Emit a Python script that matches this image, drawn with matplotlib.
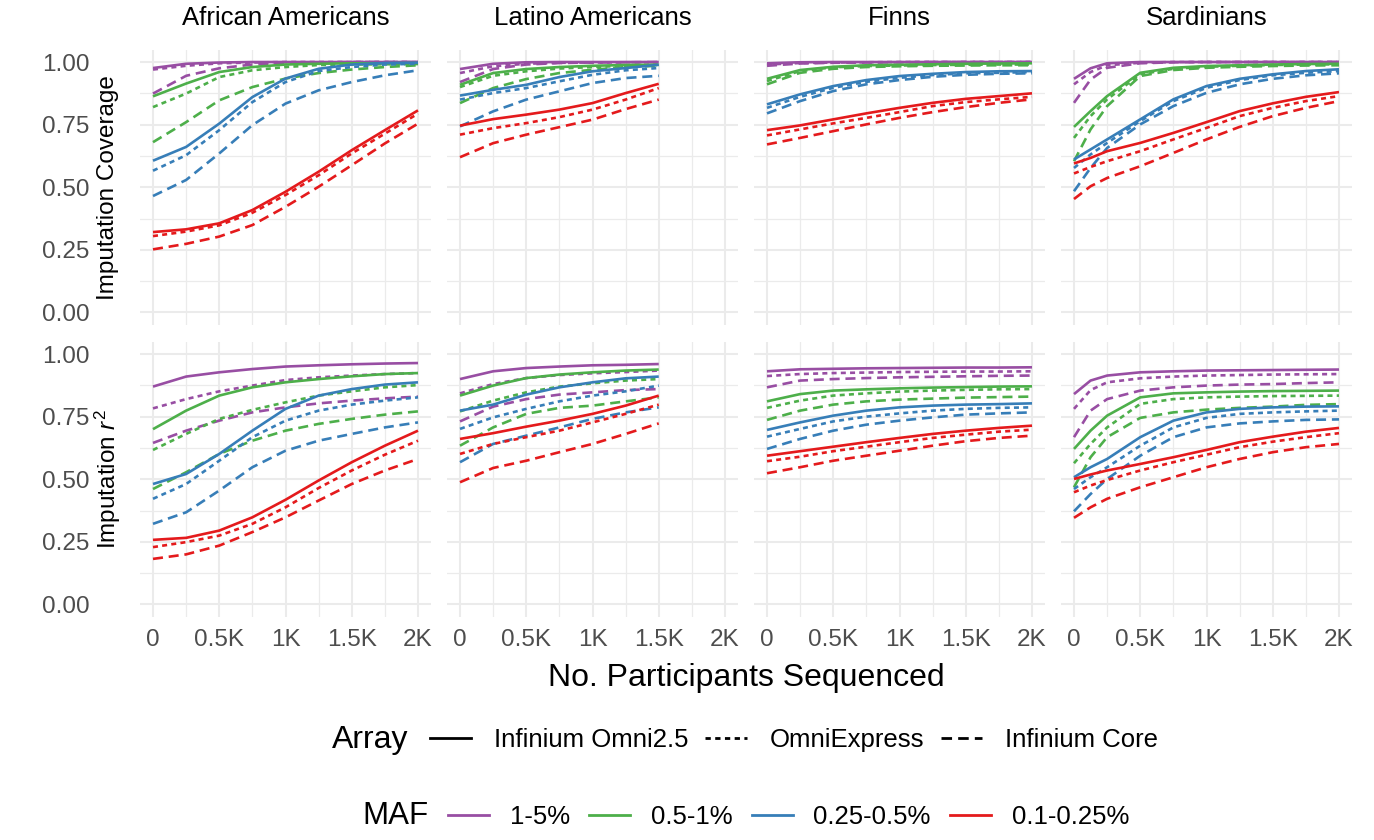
import matplotlib
matplotlib.use("Agg")
import matplotlib.pyplot as plt
from matplotlib.lines import Line2D

plt.rcParams['font.family'] = ['Liberation Sans', 'DejaVu Sans']
plt.rcParams['mathtext.fontset'] = 'custom'
plt.rcParams['mathtext.rm'] = 'Liberation Sans'
plt.rcParams['mathtext.it'] = 'Liberation Sans:italic'

# --- data ---
populations = ["African Americans", "Latino Americans", "Finns", "Sardinians"]
maf_labels = ["1-5%", "0.5-1%", "0.25-0.5%", "0.1-0.25%"]
array_labels = ["Infinium Omni2.5", "OmniExpress", "Infinium Core"]
xtick_vals = [0, 500, 1000, 1500, 2000]
xtick_labels = ["0", "0.5K", "1K", "1.5K", "2K"]
ytick_vals = [0.0, 0.25, 0.5, 0.75, 1.0]
ytick_labels = ["0.00", "0.25", "0.50", "0.75", "1.00"]

x_step = [0, 250, 500, 750, 1000, 1250, 1500, 1750, 2000]
x_lat = [0, 250, 500, 750, 1000, 1250, 1500]
x_sard = [0, 125, 250, 500, 750, 1000, 1250, 1500, 1750, 2000]

# rows: MAF 1-5% (Omni2.5, OmniExpress, Core), 0.5-1% (...), 0.25-0.5% (...), 0.1-0.25% (...)
aa_cov = [
    [0.976, 0.993, 0.998, 1.0, 1.0, 1.0, 1.0, 1.0, 1.0],
    [0.970, 0.985, 0.995, 0.998, 1.0, 1.0, 1.0, 1.0, 1.0],
    [0.874, 0.945, 0.975, 0.990, 0.996, 0.998, 1.0, 1.0, 1.0],
    [0.863, 0.914, 0.960, 0.980, 0.990, 0.993, 0.995, 0.995, 0.996],
    [0.820, 0.874, 0.940, 0.967, 0.980, 0.988, 0.990, 0.991, 0.992],
    [0.680, 0.760, 0.847, 0.900, 0.934, 0.956, 0.970, 0.980, 0.987],
    [0.606, 0.661, 0.754, 0.860, 0.934, 0.973, 0.990, 0.996, 0.997],
    [0.566, 0.628, 0.728, 0.840, 0.920, 0.964, 0.980, 0.990, 0.993],
    [0.465, 0.529, 0.635, 0.748, 0.834, 0.887, 0.920, 0.947, 0.967],
    [0.321, 0.332, 0.356, 0.409, 0.482, 0.562, 0.648, 0.728, 0.807],
    [0.305, 0.323, 0.348, 0.398, 0.469, 0.548, 0.635, 0.714, 0.794],
    [0.252, 0.274, 0.303, 0.349, 0.422, 0.502, 0.588, 0.675, 0.754],
]
aa_r2 = [
    [0.870, 0.910, 0.927, 0.940, 0.950, 0.955, 0.959, 0.962, 0.964],
    [0.783, 0.820, 0.851, 0.874, 0.896, 0.907, 0.914, 0.920, 0.924],
    [0.645, 0.694, 0.734, 0.767, 0.787, 0.803, 0.814, 0.823, 0.830],
    [0.700, 0.774, 0.834, 0.867, 0.887, 0.900, 0.911, 0.920, 0.924],
    [0.617, 0.681, 0.741, 0.777, 0.807, 0.834, 0.851, 0.867, 0.876],
    [0.461, 0.528, 0.601, 0.654, 0.694, 0.721, 0.741, 0.758, 0.771],
    [0.481, 0.521, 0.601, 0.694, 0.781, 0.834, 0.860, 0.878, 0.887],
    [0.422, 0.481, 0.574, 0.668, 0.734, 0.774, 0.798, 0.814, 0.827],
    [0.322, 0.368, 0.455, 0.548, 0.614, 0.654, 0.681, 0.707, 0.727],
    [0.258, 0.266, 0.295, 0.348, 0.418, 0.495, 0.568, 0.634, 0.694],
    [0.229, 0.249, 0.275, 0.322, 0.388, 0.465, 0.535, 0.598, 0.654],
    [0.182, 0.200, 0.235, 0.289, 0.348, 0.415, 0.481, 0.535, 0.581],
]
lat_cov = [
    [0.972, 0.993, 0.999, 1.0, 1.0, 1.0, 1.0],
    [0.956, 0.983, 0.993, 0.997, 0.998, 0.999, 0.999],
    [0.920, 0.972, 0.990, 0.996, 0.998, 0.999, 1.0],
    [0.909, 0.956, 0.972, 0.980, 0.985, 0.988, 0.989],
    [0.900, 0.945, 0.963, 0.974, 0.980, 0.985, 0.988],
    [0.836, 0.896, 0.932, 0.956, 0.969, 0.980, 0.985],
    [0.866, 0.889, 0.909, 0.940, 0.963, 0.976, 0.989],
    [0.850, 0.876, 0.896, 0.923, 0.949, 0.967, 0.976],
    [0.743, 0.803, 0.850, 0.883, 0.916, 0.936, 0.945],
    [0.746, 0.772, 0.790, 0.810, 0.836, 0.876, 0.913],
    [0.710, 0.736, 0.756, 0.780, 0.810, 0.850, 0.896],
    [0.620, 0.676, 0.710, 0.740, 0.770, 0.812, 0.850],
]
lat_r2 = [
    [0.900, 0.931, 0.944, 0.950, 0.955, 0.957, 0.960],
    [0.843, 0.880, 0.904, 0.916, 0.923, 0.928, 0.934],
    [0.731, 0.790, 0.820, 0.838, 0.847, 0.856, 0.860],
    [0.834, 0.874, 0.904, 0.918, 0.927, 0.934, 0.938],
    [0.771, 0.814, 0.847, 0.870, 0.883, 0.894, 0.900],
    [0.634, 0.707, 0.761, 0.785, 0.794, 0.811, 0.827],
    [0.774, 0.798, 0.838, 0.867, 0.887, 0.903, 0.910],
    [0.701, 0.747, 0.781, 0.811, 0.834, 0.851, 0.874],
    [0.568, 0.641, 0.674, 0.707, 0.741, 0.767, 0.787],
    [0.661, 0.684, 0.710, 0.734, 0.761, 0.794, 0.834],
    [0.601, 0.641, 0.668, 0.694, 0.727, 0.761, 0.798],
    [0.488, 0.545, 0.574, 0.608, 0.641, 0.681, 0.723],
]
fin_cov = [
    [0.995, 0.999, 1.0, 1.0, 1.0, 1.0, 1.0, 1.0, 1.0],
    [0.990, 0.996, 0.998, 0.999, 1.0, 1.0, 1.0, 1.0, 1.0],
    [0.985, 0.994, 0.997, 0.998, 0.999, 1.0, 1.0, 1.0, 1.0],
    [0.933, 0.968, 0.981, 0.987, 0.989, 0.991, 0.993, 0.994, 0.995],
    [0.924, 0.964, 0.979, 0.984, 0.986, 0.988, 0.989, 0.990, 0.990],
    [0.911, 0.957, 0.973, 0.980, 0.983, 0.985, 0.986, 0.987, 0.987],
    [0.831, 0.871, 0.904, 0.928, 0.944, 0.953, 0.960, 0.963, 0.964],
    [0.817, 0.861, 0.897, 0.921, 0.937, 0.948, 0.955, 0.957, 0.960],
    [0.795, 0.844, 0.884, 0.911, 0.928, 0.941, 0.949, 0.953, 0.955],
    [0.728, 0.747, 0.771, 0.795, 0.817, 0.837, 0.853, 0.864, 0.875],
    [0.707, 0.731, 0.755, 0.777, 0.800, 0.824, 0.840, 0.851, 0.861],
    [0.671, 0.697, 0.724, 0.751, 0.777, 0.800, 0.820, 0.837, 0.851],
]
fin_r2 = [
    [0.931, 0.939, 0.941, 0.943, 0.944, 0.945, 0.946, 0.946, 0.947],
    [0.912, 0.920, 0.924, 0.926, 0.928, 0.929, 0.930, 0.930, 0.931],
    [0.867, 0.894, 0.900, 0.904, 0.907, 0.909, 0.911, 0.913, 0.914],
    [0.811, 0.840, 0.854, 0.859, 0.863, 0.866, 0.868, 0.870, 0.871],
    [0.785, 0.814, 0.834, 0.843, 0.850, 0.854, 0.857, 0.859, 0.860],
    [0.737, 0.774, 0.798, 0.811, 0.818, 0.822, 0.826, 0.828, 0.830],
    [0.697, 0.727, 0.754, 0.774, 0.787, 0.794, 0.798, 0.800, 0.803],
    [0.670, 0.701, 0.731, 0.750, 0.763, 0.774, 0.781, 0.785, 0.787],
    [0.621, 0.661, 0.694, 0.718, 0.734, 0.747, 0.758, 0.763, 0.767],
    [0.594, 0.612, 0.630, 0.648, 0.665, 0.681, 0.694, 0.705, 0.714],
    [0.572, 0.590, 0.612, 0.630, 0.648, 0.665, 0.678, 0.690, 0.698],
    [0.524, 0.548, 0.574, 0.594, 0.614, 0.634, 0.652, 0.665, 0.674],
]
sar_cov = [
    [0.933, 0.975, 0.995, 1.0, 1.0, 1.0, 1.0, 1.0, 1.0, 1.0],
    [0.911, 0.960, 0.987, 0.997, 1.0, 1.0, 1.0, 1.0, 1.0, 1.0],
    [0.837, 0.930, 0.977, 0.995, 0.999, 1.0, 1.0, 1.0, 1.0, 1.0],
    [0.741, 0.804, 0.864, 0.957, 0.977, 0.984, 0.987, 0.990, 0.992, 0.993],
    [0.697, 0.784, 0.851, 0.951, 0.973, 0.981, 0.985, 0.988, 0.990, 0.991],
    [0.604, 0.731, 0.824, 0.944, 0.968, 0.977, 0.981, 0.984, 0.986, 0.987],
    [0.611, 0.651, 0.691, 0.771, 0.851, 0.904, 0.933, 0.951, 0.964, 0.971],
    [0.577, 0.631, 0.677, 0.764, 0.844, 0.897, 0.928, 0.947, 0.957, 0.964],
    [0.484, 0.577, 0.657, 0.751, 0.824, 0.877, 0.911, 0.933, 0.947, 0.955],
    [0.595, 0.617, 0.644, 0.677, 0.717, 0.760, 0.804, 0.835, 0.861, 0.880],
    [0.555, 0.581, 0.604, 0.644, 0.691, 0.737, 0.784, 0.817, 0.844, 0.864],
    [0.453, 0.504, 0.537, 0.584, 0.637, 0.691, 0.741, 0.784, 0.817, 0.844],
]
sar_r2 = [
    [0.840, 0.894, 0.914, 0.927, 0.931, 0.934, 0.935, 0.936, 0.937, 0.938],
    [0.781, 0.856, 0.887, 0.903, 0.910, 0.914, 0.916, 0.918, 0.919, 0.920],
    [0.668, 0.774, 0.820, 0.854, 0.867, 0.874, 0.878, 0.880, 0.884, 0.887],
    [0.621, 0.694, 0.754, 0.827, 0.843, 0.847, 0.850, 0.852, 0.853, 0.854],
    [0.564, 0.641, 0.707, 0.801, 0.820, 0.827, 0.830, 0.832, 0.833, 0.834],
    [0.468, 0.588, 0.668, 0.745, 0.767, 0.778, 0.785, 0.790, 0.797, 0.800],
    [0.508, 0.548, 0.581, 0.668, 0.734, 0.767, 0.781, 0.787, 0.790, 0.791],
    [0.461, 0.508, 0.548, 0.634, 0.707, 0.745, 0.761, 0.767, 0.771, 0.774],
    [0.372, 0.441, 0.501, 0.594, 0.668, 0.707, 0.723, 0.731, 0.737, 0.739],
    [0.501, 0.519, 0.535, 0.561, 0.588, 0.617, 0.648, 0.670, 0.690, 0.705],
    [0.448, 0.475, 0.497, 0.535, 0.568, 0.598, 0.628, 0.650, 0.668, 0.684],
    [0.346, 0.388, 0.422, 0.468, 0.508, 0.548, 0.581, 0.608, 0.628, 0.641],
]

panel_x = [x_step, x_lat, x_step, x_sard]
panel_cov = [aa_cov, lat_cov, fin_cov, sar_cov]
panel_r2 = [aa_r2, lat_r2, fin_r2, sar_r2]

# --- styling ---
maf_colors = ["#984EA3", "#4DAF4A", "#377EB8", "#E41A1C"]
array_styles = ["-", (0, (1.9, 1.6)), (0, (3.8, 2.2))]
grid_col = "#EBEBEB"
tick_col = "#4D4D4D"

W, H = 1374, 840
fig = plt.figure(figsize=(W / 100, H / 100), dpi=100)

col_left = [139.75, 446.75, 753.75, 1060.75]
pw = 291.5
row_top = [49.5, 341.5]
ph = 275.5

axes = []
for r in range(2):
    row = []
    for c in range(4):
        ax = fig.add_axes([col_left[c] / W, 1 - (row_top[r] + ph) / H, pw / W, ph / H])
        row.append(ax)
    axes.append(row)

for c in range(4):
    for r, data in enumerate([panel_cov[c], panel_r2[c]]):
        ax = axes[r][c]
        for k, vals in enumerate(data):
            ax.plot(panel_x[c], vals, color=maf_colors[k // 3], ls=array_styles[k % 3],
                    lw=1.9, dash_capstyle='butt', solid_capstyle='butt', solid_joinstyle='round')
        ax.set_xlim(-100, 2100)
        ax.set_ylim(-0.05, 1.05)
        ax.set_xticks(xtick_vals)
        ax.set_xticks([250, 750, 1250, 1750], minor=True)
        ax.set_yticks(ytick_vals)
        ax.set_yticks([0.125, 0.375, 0.625, 0.875], minor=True)
        ax.grid(which='major', color=grid_col, lw=1.5)
        ax.grid(which='minor', color=grid_col, lw=0.9)
        ax.set_axisbelow(True)
        for s in ax.spines.values():
            s.set_visible(False)
        ax.tick_params(which='both', length=0, labelsize=17.5, labelcolor=tick_col)
        ax.tick_params(axis='x', pad=9)
        ax.tick_params(axis='y', pad=36)
        if r == 1:
            ax.set_xticklabels(xtick_labels)
        else:
            ax.set_xticklabels([])
        if c == 0:
            ax.set_yticklabels(ytick_labels)
        else:
            ax.set_yticklabels([])

for c, name in enumerate(populations):
    fig.text((col_left[c] + pw / 2) / W, 1 - 18 / H, name, ha='center', va='center', fontsize=18.5)

fig.text(108 / W, 1 - (row_top[0] + ph / 2) / H, "Imputation Coverage", rotation=90,
         ha='center', va='center', fontsize=17.5)
fig.text(108 / W, 1 - (row_top[1] + ph / 2) / H, "Imputation $r^2$", rotation=90,
         ha='center', va='center', fontsize=17.5)
fig.text((col_left[0] + col_left[3] + pw) / 2 / W, 1 - 678 / H, "No. Participants Sequenced",
         ha='center', va='center', fontsize=23)

# legends
fig.text(332 / W, 1 - 740 / H, "Array", ha='left', va='center', fontsize=23)
arr_handles = [Line2D([], [], color='black', ls=s, lw=2.0, dash_capstyle='butt') for s in array_styles]
fig.legend(arr_handles, array_labels, loc='center left', bbox_to_anchor=(430 / W, 1 - 740 / H),
           ncol=3, frameon=False, fontsize=18.5, handlelength=1.6, handletextpad=0.9,
           columnspacing=0.65, borderpad=0, borderaxespad=0)

fig.text(362 / W, 1 - 816 / H, "MAF", ha='left', va='center', fontsize=22.5)
maf_handles = [Line2D([], [], color=col, lw=2.0) for col in maf_colors]
fig.legend(maf_handles, maf_labels, loc='center left', bbox_to_anchor=(448 / W, 1 - 817 / H),
           ncol=4, frameon=False, fontsize=18.5, handlelength=1.6, handletextpad=0.8,
           columnspacing=0.75, borderpad=0, borderaxespad=0)

fig.savefig("out.png", dpi=100)
